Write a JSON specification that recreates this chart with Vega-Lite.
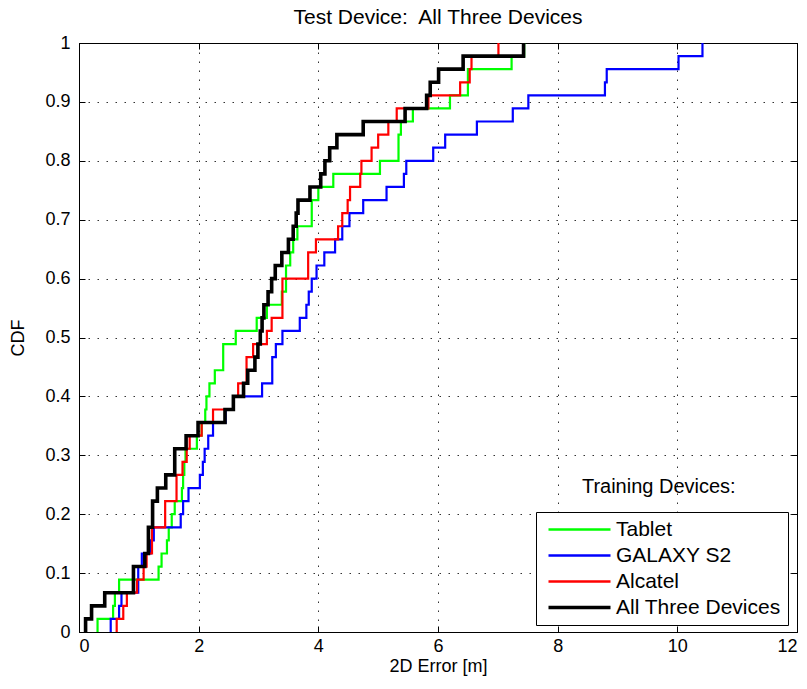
{
  "$schema": "https://vega.github.io/schema/vega-lite/v6.json",
  "width": 718,
  "height": 589,
  "autosize": {"type": "none"},
  "padding": {"left": 79, "top": 43, "right": 10, "bottom": 57},
  "background": "white",
  "title": {"text": "Test Device:\u00a0 All Three Devices", "fontSize": 21, "fontWeight": "normal", "font": "Liberation Sans", "offset": 6, "color": "black"},
  "config": {
    "font": "Liberation Sans",
    "view": {"stroke": "black", "strokeWidth": 1},
    "axis": {
      "gridColor": "#333333", "gridDash": [1.5, 7.5], "gridOpacity": 1, "gridWidth": 1,
      "domainColor": "black", "tickColor": "black", "tickSize": -6, "labelPadding": 13,
      "labelFontSize": 18, "labelColor": "black", "labelFont": "Liberation Sans",
      "titleFontSize": 18, "titleFontWeight": "normal", "titleColor": "black", "titleFont": "Liberation Sans"
    }
  },
  "resolve": {"axis": {"x": "independent", "y": "independent"}},
  "layer": [
    {
      "data": {"values": [
        {"s": "Tablet", "x": 0.31, "y": 0},
        {"s": "Tablet", "x": 0.31, "y": 0.0222},
        {"s": "Tablet", "x": 0.57, "y": 0.0444},
        {"s": "Tablet", "x": 0.60, "y": 0.0667},
        {"s": "Tablet", "x": 0.67, "y": 0.0889},
        {"s": "Tablet", "x": 1.33, "y": 0.1111},
        {"s": "Tablet", "x": 1.38, "y": 0.1333},
        {"s": "Tablet", "x": 1.47, "y": 0.1556},
        {"s": "Tablet", "x": 1.50, "y": 0.1778},
        {"s": "Tablet", "x": 1.55, "y": 0.2},
        {"s": "Tablet", "x": 1.60, "y": 0.2222},
        {"s": "Tablet", "x": 1.72, "y": 0.2444},
        {"s": "Tablet", "x": 1.74, "y": 0.2667},
        {"s": "Tablet", "x": 1.76, "y": 0.2889},
        {"s": "Tablet", "x": 1.78, "y": 0.3111},
        {"s": "Tablet", "x": 1.97, "y": 0.3333},
        {"s": "Tablet", "x": 2.05, "y": 0.3556},
        {"s": "Tablet", "x": 2.11, "y": 0.3778},
        {"s": "Tablet", "x": 2.13, "y": 0.4},
        {"s": "Tablet", "x": 2.18, "y": 0.4222},
        {"s": "Tablet", "x": 2.27, "y": 0.4444},
        {"s": "Tablet", "x": 2.41, "y": 0.4889},
        {"s": "Tablet", "x": 2.62, "y": 0.5111},
        {"s": "Tablet", "x": 2.97, "y": 0.5333},
        {"s": "Tablet", "x": 3.14, "y": 0.5556},
        {"s": "Tablet", "x": 3.39, "y": 0.5778},
        {"s": "Tablet", "x": 3.46, "y": 0.6222},
        {"s": "Tablet", "x": 3.53, "y": 0.6444},
        {"s": "Tablet", "x": 3.58, "y": 0.6667},
        {"s": "Tablet", "x": 3.65, "y": 0.6889},
        {"s": "Tablet", "x": 3.89, "y": 0.7333},
        {"s": "Tablet", "x": 4.00, "y": 0.7556},
        {"s": "Tablet", "x": 4.25, "y": 0.7778},
        {"s": "Tablet", "x": 5.03, "y": 0.8},
        {"s": "Tablet", "x": 5.34, "y": 0.8444},
        {"s": "Tablet", "x": 5.38, "y": 0.8667},
        {"s": "Tablet", "x": 5.58, "y": 0.8889},
        {"s": "Tablet", "x": 6.20, "y": 0.9111},
        {"s": "Tablet", "x": 6.50, "y": 0.9556},
        {"s": "Tablet", "x": 7.23, "y": 0.9778},
        {"s": "Tablet", "x": 7.44, "y": 1},

        {"s": "GALAXY S2", "x": 0.53, "y": 0},
        {"s": "GALAXY S2", "x": 0.53, "y": 0.0222},
        {"s": "GALAXY S2", "x": 0.67, "y": 0.0444},
        {"s": "GALAXY S2", "x": 0.71, "y": 0.0667},
        {"s": "GALAXY S2", "x": 0.99, "y": 0.1111},
        {"s": "GALAXY S2", "x": 1.05, "y": 0.1333},
        {"s": "GALAXY S2", "x": 1.20, "y": 0.1556},
        {"s": "GALAXY S2", "x": 1.25, "y": 0.1778},
        {"s": "GALAXY S2", "x": 1.70, "y": 0.2},
        {"s": "GALAXY S2", "x": 1.74, "y": 0.2222},
        {"s": "GALAXY S2", "x": 1.83, "y": 0.2444},
        {"s": "GALAXY S2", "x": 2.02, "y": 0.2667},
        {"s": "GALAXY S2", "x": 2.07, "y": 0.2889},
        {"s": "GALAXY S2", "x": 2.10, "y": 0.3111},
        {"s": "GALAXY S2", "x": 2.16, "y": 0.3333},
        {"s": "GALAXY S2", "x": 2.24, "y": 0.3556},
        {"s": "GALAXY S2", "x": 2.45, "y": 0.3778},
        {"s": "GALAXY S2", "x": 2.58, "y": 0.4},
        {"s": "GALAXY S2", "x": 3.06, "y": 0.4222},
        {"s": "GALAXY S2", "x": 3.23, "y": 0.4667},
        {"s": "GALAXY S2", "x": 3.29, "y": 0.4889},
        {"s": "GALAXY S2", "x": 3.40, "y": 0.5111},
        {"s": "GALAXY S2", "x": 3.69, "y": 0.5333},
        {"s": "GALAXY S2", "x": 3.80, "y": 0.5556},
        {"s": "GALAXY S2", "x": 3.84, "y": 0.5778},
        {"s": "GALAXY S2", "x": 3.89, "y": 0.6},
        {"s": "GALAXY S2", "x": 3.97, "y": 0.6222},
        {"s": "GALAXY S2", "x": 4.10, "y": 0.6444},
        {"s": "GALAXY S2", "x": 4.28, "y": 0.6667},
        {"s": "GALAXY S2", "x": 4.40, "y": 0.6889},
        {"s": "GALAXY S2", "x": 4.52, "y": 0.7111},
        {"s": "GALAXY S2", "x": 4.75, "y": 0.7333},
        {"s": "GALAXY S2", "x": 5.14, "y": 0.7556},
        {"s": "GALAXY S2", "x": 5.43, "y": 0.7778},
        {"s": "GALAXY S2", "x": 5.47, "y": 0.8},
        {"s": "GALAXY S2", "x": 5.92, "y": 0.8222},
        {"s": "GALAXY S2", "x": 6.12, "y": 0.8444},
        {"s": "GALAXY S2", "x": 6.65, "y": 0.8667},
        {"s": "GALAXY S2", "x": 7.25, "y": 0.8889},
        {"s": "GALAXY S2", "x": 7.51, "y": 0.9111},
        {"s": "GALAXY S2", "x": 8.79, "y": 0.9333},
        {"s": "GALAXY S2", "x": 8.82, "y": 0.9556},
        {"s": "GALAXY S2", "x": 10.02, "y": 0.9778},
        {"s": "GALAXY S2", "x": 10.42, "y": 1},

        {"s": "Alcatel", "x": 0.63, "y": 0},
        {"s": "Alcatel", "x": 0.63, "y": 0.0222},
        {"s": "Alcatel", "x": 0.74, "y": 0.0444},
        {"s": "Alcatel", "x": 0.80, "y": 0.0667},
        {"s": "Alcatel", "x": 0.97, "y": 0.0889},
        {"s": "Alcatel", "x": 1.08, "y": 0.1111},
        {"s": "Alcatel", "x": 1.13, "y": 0.1333},
        {"s": "Alcatel", "x": 1.22, "y": 0.1778},
        {"s": "Alcatel", "x": 1.44, "y": 0.2222},
        {"s": "Alcatel", "x": 1.63, "y": 0.2667},
        {"s": "Alcatel", "x": 1.73, "y": 0.2889},
        {"s": "Alcatel", "x": 1.80, "y": 0.3111},
        {"s": "Alcatel", "x": 1.85, "y": 0.3333},
        {"s": "Alcatel", "x": 2.05, "y": 0.3556},
        {"s": "Alcatel", "x": 2.24, "y": 0.3778},
        {"s": "Alcatel", "x": 2.58, "y": 0.4},
        {"s": "Alcatel", "x": 2.66, "y": 0.4222},
        {"s": "Alcatel", "x": 2.80, "y": 0.4667},
        {"s": "Alcatel", "x": 2.91, "y": 0.4889},
        {"s": "Alcatel", "x": 3.14, "y": 0.5111},
        {"s": "Alcatel", "x": 3.22, "y": 0.5333},
        {"s": "Alcatel", "x": 3.40, "y": 0.6},
        {"s": "Alcatel", "x": 3.83, "y": 0.6444},
        {"s": "Alcatel", "x": 3.96, "y": 0.6667},
        {"s": "Alcatel", "x": 4.33, "y": 0.6889},
        {"s": "Alcatel", "x": 4.40, "y": 0.7111},
        {"s": "Alcatel", "x": 4.49, "y": 0.7333},
        {"s": "Alcatel", "x": 4.53, "y": 0.7556},
        {"s": "Alcatel", "x": 4.70, "y": 0.7778},
        {"s": "Alcatel", "x": 4.72, "y": 0.8},
        {"s": "Alcatel", "x": 4.89, "y": 0.8222},
        {"s": "Alcatel", "x": 5.00, "y": 0.8444},
        {"s": "Alcatel", "x": 5.17, "y": 0.8667},
        {"s": "Alcatel", "x": 5.31, "y": 0.8889},
        {"s": "Alcatel", "x": 5.84, "y": 0.9111},
        {"s": "Alcatel", "x": 6.37, "y": 0.9333},
        {"s": "Alcatel", "x": 6.53, "y": 0.9556},
        {"s": "Alcatel", "x": 6.56, "y": 0.9778},
        {"s": "Alcatel", "x": 7.01, "y": 1},

        {"s": "All Three Devices", "x": 0.11, "y": 0},
        {"s": "All Three Devices", "x": 0.11, "y": 0.0222},
        {"s": "All Three Devices", "x": 0.21, "y": 0.0444},
        {"s": "All Three Devices", "x": 0.43, "y": 0.0667},
        {"s": "All Three Devices", "x": 0.91, "y": 0.1111},
        {"s": "All Three Devices", "x": 1.10, "y": 0.1333},
        {"s": "All Three Devices", "x": 1.16, "y": 0.1778},
        {"s": "All Three Devices", "x": 1.23, "y": 0.2222},
        {"s": "All Three Devices", "x": 1.31, "y": 0.2444},
        {"s": "All Three Devices", "x": 1.45, "y": 0.2667},
        {"s": "All Three Devices", "x": 1.60, "y": 0.3111},
        {"s": "All Three Devices", "x": 1.79, "y": 0.3333},
        {"s": "All Three Devices", "x": 1.99, "y": 0.3556},
        {"s": "All Three Devices", "x": 2.44, "y": 0.3778},
        {"s": "All Three Devices", "x": 2.58, "y": 0.4},
        {"s": "All Three Devices", "x": 2.75, "y": 0.4222},
        {"s": "All Three Devices", "x": 2.82, "y": 0.4444},
        {"s": "All Three Devices", "x": 2.94, "y": 0.4667},
        {"s": "All Three Devices", "x": 2.99, "y": 0.4889},
        {"s": "All Three Devices", "x": 3.03, "y": 0.5111},
        {"s": "All Three Devices", "x": 3.06, "y": 0.5333},
        {"s": "All Three Devices", "x": 3.09, "y": 0.5556},
        {"s": "All Three Devices", "x": 3.16, "y": 0.5778},
        {"s": "All Three Devices", "x": 3.22, "y": 0.6},
        {"s": "All Three Devices", "x": 3.28, "y": 0.6222},
        {"s": "All Three Devices", "x": 3.39, "y": 0.6444},
        {"s": "All Three Devices", "x": 3.50, "y": 0.6667},
        {"s": "All Three Devices", "x": 3.58, "y": 0.6889},
        {"s": "All Three Devices", "x": 3.63, "y": 0.7111},
        {"s": "All Three Devices", "x": 3.66, "y": 0.7333},
        {"s": "All Three Devices", "x": 3.86, "y": 0.7556},
        {"s": "All Three Devices", "x": 4.04, "y": 0.7778},
        {"s": "All Three Devices", "x": 4.11, "y": 0.8},
        {"s": "All Three Devices", "x": 4.19, "y": 0.8222},
        {"s": "All Three Devices", "x": 4.31, "y": 0.8444},
        {"s": "All Three Devices", "x": 4.75, "y": 0.8667},
        {"s": "All Three Devices", "x": 5.45, "y": 0.8889},
        {"s": "All Three Devices", "x": 5.81, "y": 0.9111},
        {"s": "All Three Devices", "x": 5.87, "y": 0.9333},
        {"s": "All Three Devices", "x": 6.01, "y": 0.9556},
        {"s": "All Three Devices", "x": 6.42, "y": 0.9778},
        {"s": "All Three Devices", "x": 7.43, "y": 1}
      ]},
      "mark": {"type": "line", "interpolate": "step-after", "strokeJoin": "miter", "strokeCap": "butt"},
      "encoding": {
        "x": {"field": "x", "type": "quantitative", "scale": {"domain": [0, 12]},
              "axis": {"orient": "bottom", "grid": true, "values": [0, 2, 4, 6, 8, 10, 12], "format": "d", "title": "2D Error [m]", "titlePadding": 2, "labelPadding": 11}},
        "y": {"field": "y", "type": "quantitative", "scale": {"domain": [0, 1]},
              "axis": {"orient": "left", "grid": true, "values": [0, 0.1, 0.2, 0.3, 0.4, 0.5, 0.6, 0.7, 0.8, 0.9, 1], "format": ".1~f", "title": "CDF", "titlePadding": 17, "labelPadding": 15}},
        "order": {"field": "y", "type": "quantitative"},
        "color": {"field": "s", "type": "nominal",
                  "scale": {"domain": ["Tablet", "GALAXY S2", "Alcatel", "All Three Devices"], "range": ["#00ff00", "#0000ff", "#ff0000", "#000000"]},
                  "legend": {"orient": "none", "legendX": 457, "legendY": 469, "title": null, "strokeColor": "black", "fillColor": "white",
                             "padding": 7, "symbolType": "M-0.5,0H5.7", "symbolSize": 400, "labelFontSize": 21, "labelOffset": 52,
                             "rowPadding": 4, "labelColor": "black", "labelFont": "Liberation Sans", "labelLimit": 300, "cornerRadius": 0,
                             "encode": {"symbols": {"update": {"strokeWidth": {"signal": "datum.value === 'All Three Devices' ? 3.6 : 2.4"}}}}}},
        "strokeWidth": {"condition": {"test": "datum.s === 'All Three Devices'", "value": 3.6}, "value": 2.2}
      }
    },
    {
      "data": {"values": [{}]},
      "mark": {"type": "text", "fontSize": 20, "font": "Liberation Sans", "align": "center", "baseline": "middle", "color": "black"},
      "encoding": {
        "x": {"datum": 9.69, "type": "quantitative", "scale": {"domain": [0, 12]}, "axis": {"orient": "top", "labels": false, "grid": false, "title": null, "values": [0, 2, 4, 6, 8, 10, 12]}},
        "y": {"datum": 0.246, "type": "quantitative", "scale": {"domain": [0, 1]}, "axis": {"orient": "right", "labels": false, "grid": false, "title": null, "values": [0, 0.1, 0.2, 0.3, 0.4, 0.5, 0.6, 0.7, 0.8, 0.9, 1]}},
        "text": {"value": "Training Devices:"}
      }
    }
  ]
}
